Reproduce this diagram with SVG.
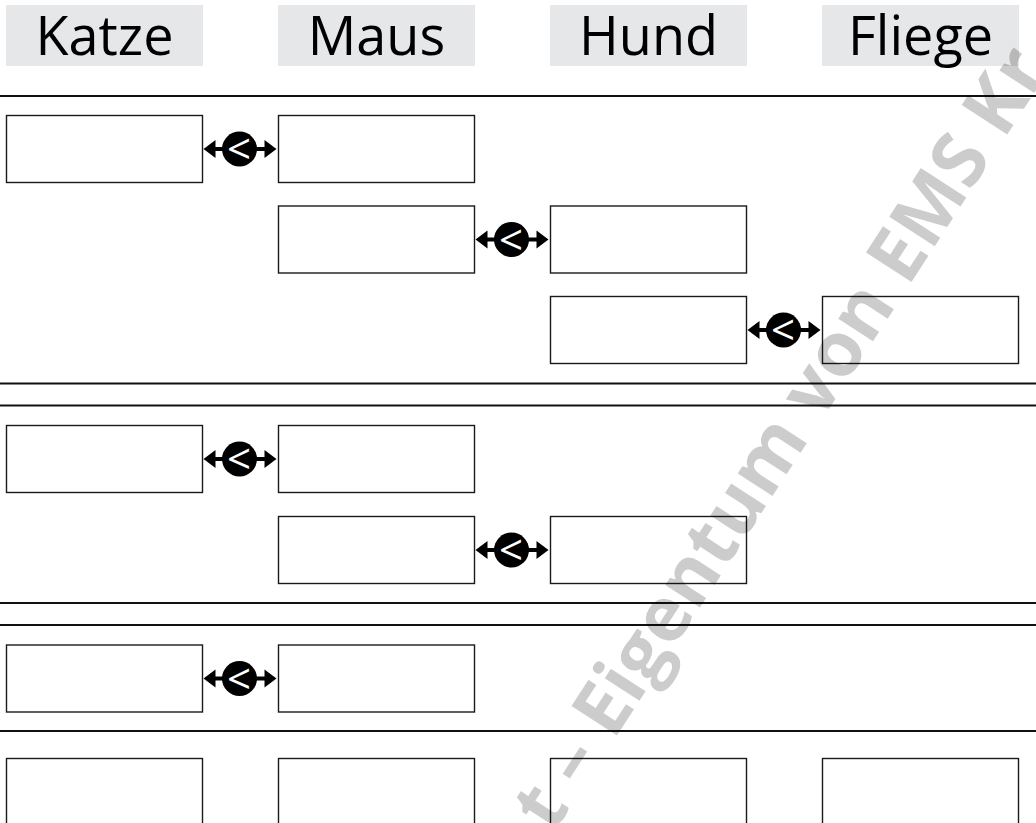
<svg xmlns="http://www.w3.org/2000/svg" width="1036" height="823" viewBox="0 0 1036 823">
  <style>
    .hdr { fill: #e6e7e8; }
    .hdr-text { font-family: "Open Sans", "Noto Sans", sans-serif; font-size: 54px; fill: #000; text-anchor: middle; }
    .box { fill: #fff; stroke: #1a1a1a; stroke-width: 1.4; }
    .rule { stroke: #111; stroke-width: 2; }
    .shaft { stroke: #000; stroke-width: 4; }
    .knob { fill: #000; }
    .sym { font-family: "Open Sans", "Noto Sans", sans-serif; font-size: 42px; fill: #fff; text-anchor: middle; }
    .mark { font-family: "Open Sans", "Noto Sans", sans-serif; font-weight: 700; font-size: 76px; fill: #000; fill-opacity: 0.2; }
  </style>
  <defs>
    <!-- double-headed comparison connector, centred on its own origin -->
    <g id="cmp">
      <line class="shaft" x1="-26" y1="0" x2="26" y2="0"/>
      <polygon class="knob" points="-37,0 -25,-9 -25,9"/>
      <polygon class="knob" points="36,0 24,-9 24,9"/>
      <circle class="knob" cx="-1" cy="0" r="17.5"/>
      <text class="sym" x="-1.5" y="15">&lt;</text>
    </g>
  </defs>
  <rect width="1036" height="823" fill="#fff"/>

  <!-- column headers -->
  <g id="hdr-katze"><rect class="hdr" x="6" y="5" width="197" height="61"/><text class="hdr-text" x="104.5" y="55">Katze</text></g>
  <g id="hdr-maus"><rect class="hdr" x="278" y="5" width="197" height="61"/><text class="hdr-text" x="376.5" y="55">Maus</text></g>
  <g id="hdr-hund"><rect class="hdr" x="550" y="5" width="197" height="61"/><text class="hdr-text" x="648.5" y="55">Hund</text></g>
  <g id="hdr-fliege"><rect class="hdr" x="822" y="5" width="197" height="61"/><text class="hdr-text" x="920.5" y="55">Fliege</text></g>

  <!-- section rules -->
  <g id="rules">
    <line class="rule" x1="0" y1="96" x2="1036" y2="96"/>
    <line class="rule" x1="0" y1="383.5" x2="1036" y2="383.5"/>
    <line class="rule" x1="0" y1="405.5" x2="1036" y2="405.5"/>
    <line class="rule" x1="0" y1="603" x2="1036" y2="603"/>
    <line class="rule" x1="0" y1="625" x2="1036" y2="625"/>
    <line class="rule" x1="0" y1="731" x2="1036" y2="731"/>
  </g>

  <!-- section 1 -->
  <g id="s1-katze"><rect class="box" x="6.5" y="115.5" width="196" height="67"/></g>
  <g id="s1-maus-a"><rect class="box" x="278.5" y="115.5" width="196" height="67"/></g>
  <g id="s1-maus-b"><rect class="box" x="278.5" y="206" width="196" height="67"/></g>
  <g id="s1-hund-a"><rect class="box" x="550.5" y="206" width="196" height="67"/></g>
  <g id="s1-hund-b"><rect class="box" x="550.5" y="296.5" width="196" height="67"/></g>
  <g id="s1-fliege"><rect class="box" x="822.5" y="296.5" width="196" height="67"/></g>

  <!-- section 2 -->
  <g id="s2-katze"><rect class="box" x="6.5" y="425.5" width="196" height="67"/></g>
  <g id="s2-maus-a"><rect class="box" x="278.5" y="425.5" width="196" height="67"/></g>
  <g id="s2-maus-b"><rect class="box" x="278.5" y="516.5" width="196" height="67"/></g>
  <g id="s2-hund"><rect class="box" x="550.5" y="516.5" width="196" height="67"/></g>

  <!-- section 3 -->
  <g id="s3-katze"><rect class="box" x="6.5" y="645" width="196" height="67"/></g>
  <g id="s3-maus"><rect class="box" x="278.5" y="645" width="196" height="67"/></g>

  <!-- section 4 -->
  <g id="s4-katze"><rect class="box" x="6.5" y="758.5" width="196" height="80"/></g>
  <g id="s4-maus"><rect class="box" x="278.5" y="758.5" width="196" height="80"/></g>
  <g id="s4-hund"><rect class="box" x="550.5" y="758.5" width="196" height="80"/></g>
  <g id="s4-fliege"><rect class="box" x="822.5" y="758.5" width="196" height="80"/></g>

  <!-- connectors -->
  <g id="connectors">
    <use href="#cmp" x="240.5" y="149"/>
    <use href="#cmp" x="512.5" y="239.5"/>
    <use href="#cmp" x="784.5" y="330"/>
    <use href="#cmp" x="240.5" y="459"/>
    <use href="#cmp" x="512.5" y="550"/>
    <use href="#cmp" x="240.5" y="678.5"/>
  </g>

  <!-- watermark -->
  <text class="mark" transform="translate(553 834) rotate(-57)">t – Eigentum von EMS Kr</text>
</svg>
